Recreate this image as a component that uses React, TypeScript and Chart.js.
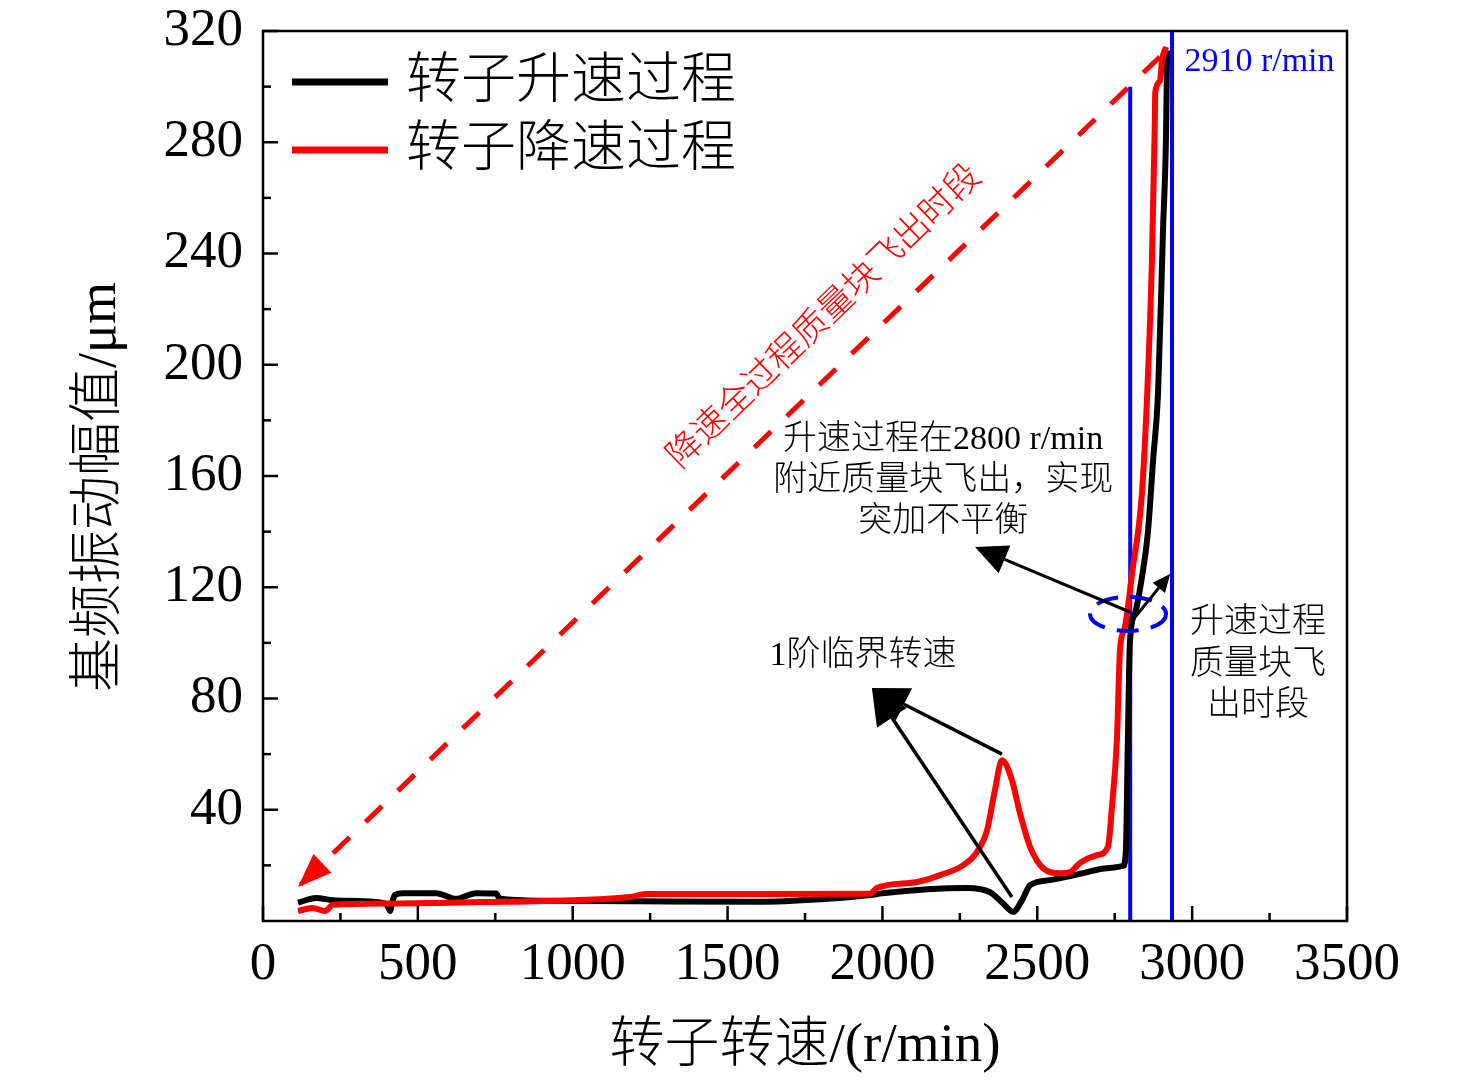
import { useEffect, useRef } from 'react';
import Chart from 'chart.js/auto';

// 转子升速过程 (black)
const riseRpm = [113, 171, 226, 300, 355, 395, 404, 410, 418, 426, 452, 559, 623, 688, 752, 765, 900, 1200, 1600, 1800, 1960, 2000, 2273, 2347, 2389, 2422, 2451, 2477, 2541, 2648, 2725, 2777, 2786, 2792, 2799, 2816, 2838, 2857, 2874, 2890, 2906, 2916, 2919];
const riseAmp = [6.6, 8.3, 7.5, 7.2, 6.9, 6.2, 5.0, 3.6, 7.0, 9.4, 10.0, 10.0, 8.0, 10.0, 9.9, 8.0, 7.3, 7.1, 6.9, 7.8, 9.3, 10.0, 11.9, 10.4, 6.4, 3.3, 7.5, 12.9, 14.7, 17.2, 19.0, 19.8, 25, 62, 100, 110.8, 123.7, 139.5, 165.8, 190, 248.5, 284.4, 313];

// 转子降速过程 (red)
const fallRpm = [113, 160, 200, 226, 400, 700, 1000, 1185, 1237, 1600, 1960, 1983, 2112, 2186, 2260, 2305, 2338, 2363, 2386, 2418, 2444, 2477, 2519, 2573, 2606, 2638, 2693, 2728, 2741, 2757, 2767, 2783, 2806, 2838, 2857, 2870, 2879, 2881, 2896, 2903, 2916];
const fallAmp = [3.6, 4.7, 3.6, 5.8, 6.3, 6.8, 7.5, 8.6, 9.7, 9.7, 9.8, 11.9, 14.0, 16.5, 20.0, 24.8, 32.7, 47, 57.8, 50.7, 38.8, 26.6, 19.0, 17.2, 17.6, 20.9, 23.7, 26.6, 41, 65, 97.4, 105.7, 125, 154, 195, 237, 284, 298, 302, 309.6, 314.3];

// vertical markers
const markLeftRpm = 2800;
const markLeftTop = 300;
const markRightRpm = 2935;
const markRightTop = 320;

// red dashed arrow (from top-right down to bottom-left)
const diagFrom = [2896, 310.7];
const diagTo = [113, 12.2];

const xTicks = [0, 500, 1000, 1500, 2000, 2500, 3000, 3500];
const xMinor = [250, 750, 1250, 1750, 2250, 2750, 3250];
const yTicks = [40, 80, 120, 160, 200, 240, 280, 320];
const yMinor = [20, 60, 100, 140, 180, 220, 260, 300];

const SERIF = "'Liberation Serif', 'Noto Sans CJK SC', serif";
const BLUE = '#0000ff';
const RED = '#ff0000';

function drawArrow(
  ctx: CanvasRenderingContext2D,
  x1: number, y1: number, x2: number, y2: number,
  color: string, lw: number, hl: number, hw: number,
) {
  const a = Math.atan2(y2 - y1, x2 - x1);
  const bx = x2 - hl * Math.cos(a);
  const by = y2 - hl * Math.sin(a);
  ctx.setLineDash([]);
  ctx.strokeStyle = color;
  ctx.lineWidth = lw;
  ctx.beginPath();
  ctx.moveTo(x1, y1);
  ctx.lineTo(bx, by);
  ctx.stroke();
  ctx.fillStyle = color;
  ctx.beginPath();
  ctx.moveTo(x2, y2);
  ctx.lineTo(bx + (hw / 2) * Math.sin(a), by - (hw / 2) * Math.cos(a));
  ctx.lineTo(bx - (hw / 2) * Math.sin(a), by + (hw / 2) * Math.cos(a));
  ctx.closePath();
  ctx.fill();
}

const framePlugin = {
  id: 'frameTicks',
  afterDatasetsDraw(chart: any) {
    const { ctx, chartArea: a, scales } = chart;
    ctx.save();
    ctx.strokeStyle = '#000';
    ctx.lineWidth = 2.5;
    ctx.setLineDash([]);
    ctx.strokeRect(a.left, a.top, a.right - a.left, a.bottom - a.top);
    const xt = (vals: number[], len: number) => {
      vals.forEach((v) => {
        const x = scales.x.getPixelForValue(v);
        ctx.beginPath();
        ctx.moveTo(x, a.bottom);
        ctx.lineTo(x, a.bottom - len);
        ctx.stroke();
      });
    };
    const yt = (vals: number[], len: number) => {
      vals.forEach((v) => {
        const y = scales.y.getPixelForValue(v);
        ctx.beginPath();
        ctx.moveTo(a.left, y);
        ctx.lineTo(a.left + len, y);
        ctx.stroke();
      });
    };
    xt(xTicks, 15);
    xt(xMinor, 8);
    yt(yTicks, 15);
    yt(yMinor, 8);
    ctx.restore();
  },
};

const annotationPlugin = {
  id: 'notes',
  afterDraw(chart: any) {
    const { ctx, scales } = chart;
    const px = (v: number) => scales.x.getPixelForValue(v);
    const py = (v: number) => scales.y.getPixelForValue(v);
    ctx.save();

    // y axis title
    ctx.save();
    ctx.translate(101, 487);
    ctx.rotate(-Math.PI / 2);
    ctx.fillStyle = '#000';
    ctx.font = `300 54px ${SERIF}`;
    ctx.textAlign = 'center';
    ctx.textBaseline = 'middle';
    ctx.fillText('基频振动幅值/μm', 0, 0);
    ctx.restore();

    // legend
    const legend = [
      { label: chart.data.datasets[1].label, color: chart.data.datasets[1].borderColor, y: 82 },
      { label: chart.data.datasets[0].label, color: chart.data.datasets[0].borderColor, y: 150 },
    ];
    legend.forEach((l) => {
      ctx.strokeStyle = l.color;
      ctx.lineWidth = 7;
      ctx.beginPath();
      ctx.moveTo(292, l.y);
      ctx.lineTo(388, l.y);
      ctx.stroke();
      ctx.fillStyle = '#000';
      ctx.font = `300 55px ${SERIF}`;
      ctx.textAlign = 'left';
      ctx.textBaseline = 'middle';
      ctx.fillText(l.label, 406, l.y + 1);
    });

    // red dashed arrow head + rotated label
    const fx = px(diagFrom[0]);
    const fy = py(diagFrom[1]);
    const tx = px(diagTo[0]);
    const ty = py(diagTo[1]);
    const head = Math.atan2(ty - fy, tx - fx);
    ctx.fillStyle = RED;
    ctx.beginPath();
    ctx.moveTo(tx, ty);
    const hbx = tx - 34 * Math.cos(head);
    const hby = ty - 34 * Math.sin(head);
    ctx.lineTo(hbx + 13 * Math.sin(head), hby - 13 * Math.cos(head));
    ctx.lineTo(hbx - 13 * Math.sin(head), hby + 13 * Math.cos(head));
    ctx.closePath();
    ctx.fill();

    ctx.save();
    ctx.translate(px(1815), py(217));
    ctx.rotate(head + Math.PI);
    ctx.fillStyle = RED;
    ctx.font = `300 35px ${SERIF}`;
    ctx.textAlign = 'center';
    ctx.textBaseline = 'middle';
    ctx.fillText('降速全过程质量块飞出时段', 0, 0);
    ctx.restore();

    // 1阶临界转速 arrows
    drawArrow(ctx, px(2386), py(60.0), px(1966), py(83.8), '#000', 3.5, 36, 36);
    drawArrow(ctx, px(2418), py(8.6), px(1966), py(83.8), '#000', 3.5, 36, 36);

    // ellipse around the jump
    ctx.strokeStyle = BLUE;
    ctx.lineWidth = 4;
    ctx.setLineDash([22, 12]);
    ctx.beginPath();
    ctx.ellipse(px(2793), py(110.4), 38, 17, 0, 0, Math.PI * 2);
    ctx.stroke();
    ctx.setLineDash([]);

    drawArrow(ctx, px(2799), py(111.1), px(2299), py(134.5), '#000', 3, 32, 30);
    drawArrow(ctx, px(2816), py(109.3), px(2929), py(124.8), '#000', 3, 18, 16);

    // text notes
    ctx.fillStyle = '#000';
    ctx.font = `300 34px ${SERIF}`;
    ctx.textAlign = 'center';
    ctx.textBaseline = 'middle';
    ctx.fillText('1阶临界转速', px(1937), py(95.3));
    ctx.fillText('升速过程在2800 r/min', px(2196), py(172.9));
    ctx.fillText('附近质量块飞出，实现', px(2196), py(158.2));
    ctx.fillText('突加不平衡', px(2196), py(143.5));
    ctx.fillText('升速过程', px(3213), py(107.1));
    ctx.fillText('质量块飞', px(3213), py(92.0));
    ctx.fillText('出时段', px(3213), py(77.3));

    ctx.fillStyle = BLUE;
    ctx.font = `34px ${SERIF}`;
    ctx.textAlign = 'left';
    ctx.fillText('2910 r/min', px(2975), py(308.9));

    ctx.restore();
  },
};

export default function App() {
  const canvasRef = useRef<HTMLCanvasElement | null>(null);

  useEffect(() => {
    document.body.style.margin = '0';
    const canvas = canvasRef.current;
    if (!canvas) return;

    const chart = new Chart(canvas, {
      type: 'line',
      data: {
        datasets: [
          {
            label: '转子降速过程',
            data: fallRpm.map((x, i) => ({ x, y: fallAmp[i] })),
            borderColor: RED,
            borderWidth: 6,
            pointRadius: 0,
            cubicInterpolationMode: 'monotone',
            order: 0,
          },
          {
            label: '转子升速过程',
            data: riseRpm.map((x, i) => ({ x, y: riseAmp[i] })),
            borderColor: '#000',
            borderWidth: 6,
            pointRadius: 0,
            cubicInterpolationMode: 'monotone',
            order: 1,
          },
          {
            label: 'left marker',
            data: [{ x: markLeftRpm, y: 0 }, { x: markLeftRpm, y: markLeftTop }],
            borderColor: BLUE,
            borderWidth: 4,
            pointRadius: 0,
            order: 2,
          },
          {
            label: 'right marker',
            data: [{ x: markRightRpm, y: 0 }, { x: markRightRpm, y: markRightTop }],
            borderColor: BLUE,
            borderWidth: 4,
            pointRadius: 0,
            order: 2,
          },
          {
            label: 'diag',
            data: [{ x: diagFrom[0], y: diagFrom[1] }, { x: diagTo[0], y: diagTo[1] }],
            borderColor: RED,
            borderWidth: 5,
            borderDash: [23, 22],
            pointRadius: 0,
            order: 3,
          },
        ],
      },
      options: {
        responsive: false,
        animation: false,
        layout: { padding: { left: 0, top: 31, right: 129, bottom: 0 } },
        plugins: {
          legend: { display: false },
          tooltip: { enabled: false },
        },
        scales: {
          x: {
            type: 'linear',
            min: 0,
            max: 3500,
            afterBuildTicks: (s: any) => {
              s.ticks = xTicks.map((value) => ({ value }));
            },
            afterFit: (s: any) => {
              s.height = 164;
              s.paddingLeft = 0;
              s.paddingRight = 0;
            },
            grid: { display: false, drawTicks: false },
            border: { display: false },
            ticks: {
              color: '#000',
              padding: 18,
              maxRotation: 0,
              autoSkip: false,
              callback: (v: any) => String(v),
              font: { family: SERIF, size: 53, lineHeight: 1 },
            },
            title: {
              display: true,
              text: '转子转速/(r/min)',
              color: '#000',
              padding: { top: 0, bottom: 5 },
              font: { family: SERIF, size: 55, weight: '300' },
            },
          },
          y: {
            type: 'linear',
            min: 0,
            max: 320,
            afterBuildTicks: (s: any) => {
              s.ticks = yTicks.map((value) => ({ value }));
            },
            afterFit: (s: any) => {
              s.width = 263;
              s.paddingTop = 0;
              s.paddingBottom = 0;
            },
            grid: { display: false, drawTicks: false },
            border: { display: false },
            ticks: {
              color: '#000',
              padding: 20,
              autoSkip: false,
              callback: (v: any) => String(v),
              font: { family: SERIF, size: 53, lineHeight: 1 },
            },
          },
        },
      },
      plugins: [framePlugin, annotationPlugin],
    });

    return () => chart.destroy();
  }, []);

  return (
    <div style={{ width: 1476, height: 1085, background: '#fff' }}>
      <canvas ref={canvasRef} width={1476} height={1085} style={{ display: 'block' }} />
    </div>
  );
}
